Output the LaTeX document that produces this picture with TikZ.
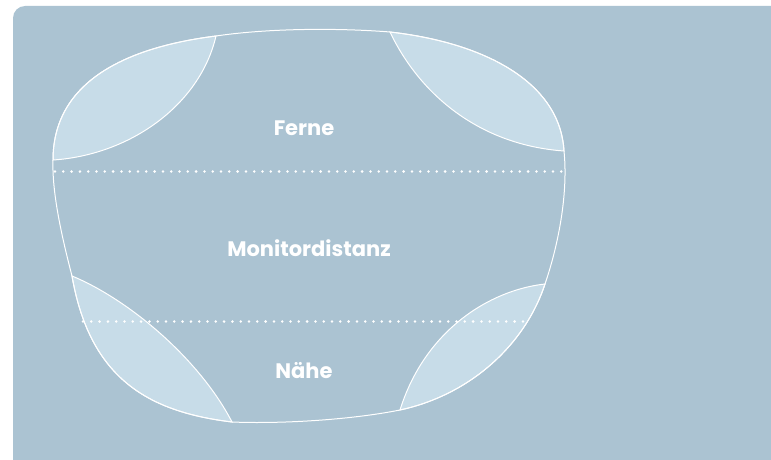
\documentclass[tikz,border=0pt]{standalone}
\usepackage{fontspec}
\setmainfont{Poppins}
\usetikzlibrary{backgrounds}
\definecolor{panelblue}{HTML}{ABC3D2}
\definecolor{zoneblue}{HTML}{C7DCE8}
\tikzset{lensline/.style={draw=white,line width=1pt},
zone/.style={fill=zoneblue,draw=white,line width=1pt},
dotline/.style={white,line width=2.8pt,line cap=round,dash pattern=on 0pt off 8.3pt},
zonelabel/.style={text=white,font=\bfseries\fontsize{21}{25}\selectfont}}

\begin{document}
\begin{tikzpicture}[x=1pt,y=-1pt]
\useasboundingbox (0,0) rectangle (771,460);
\clip (0,0) rectangle (771,460);
\fill[panelblue,rounded corners=12pt] (13,6) rectangle (800,490);
% vier Zonen
\draw[zone] (53,160) .. controls (53,85) and (120,48) .. (216,36) .. controls (200,105) and (130,155) .. cycle;
\draw[zone] (390,32) .. controls (480,42) and (560,80) .. (564,151) .. controls (480,145) and (420,95) .. cycle;
\draw[zone] (72,276) .. controls (130,300) and (200,360) .. (232,422) .. controls (150,412) and (90,380) .. cycle;
\draw[zone] (545,284) .. controls (490,290) and (425,330) .. (400,410) .. controls (470,395) and (525,345) .. cycle;
% Glas
\draw[lensline] (53,160) .. controls (53,85) and (120,48) .. (216,36)
  .. controls (270,28) and (340,28) .. (390,32)
  .. controls (480,42) and (560,80) .. (564,151)
  .. controls (568,190) and (560,240) .. (545,284)
  .. controls (525,345) and (470,395) .. (400,410)
  .. controls (350,420) and (280,424) .. (232,422)
  .. controls (150,412) and (90,380) .. (72,276)
  .. controls (60,230) and (52,190) .. cycle;
% Trennlinien
\coordinate (fl) at (55,171.5);
\coordinate (fr) at (565,171.5);
\coordinate (nl) at (83,321.5);
\coordinate (nr) at (528,321.5);
\draw[dotline] (fl) -- (fr);
\draw[dotline] (nl) -- (nr);
\node[zonelabel] (ferne) at (304,128) {Ferne};
\node[zonelabel] (monitor) at (309,248) {Monitordistanz};
\node[zonelabel] (naehe) at (304,371) {Nähe};
\end{tikzpicture}
\end{document}
